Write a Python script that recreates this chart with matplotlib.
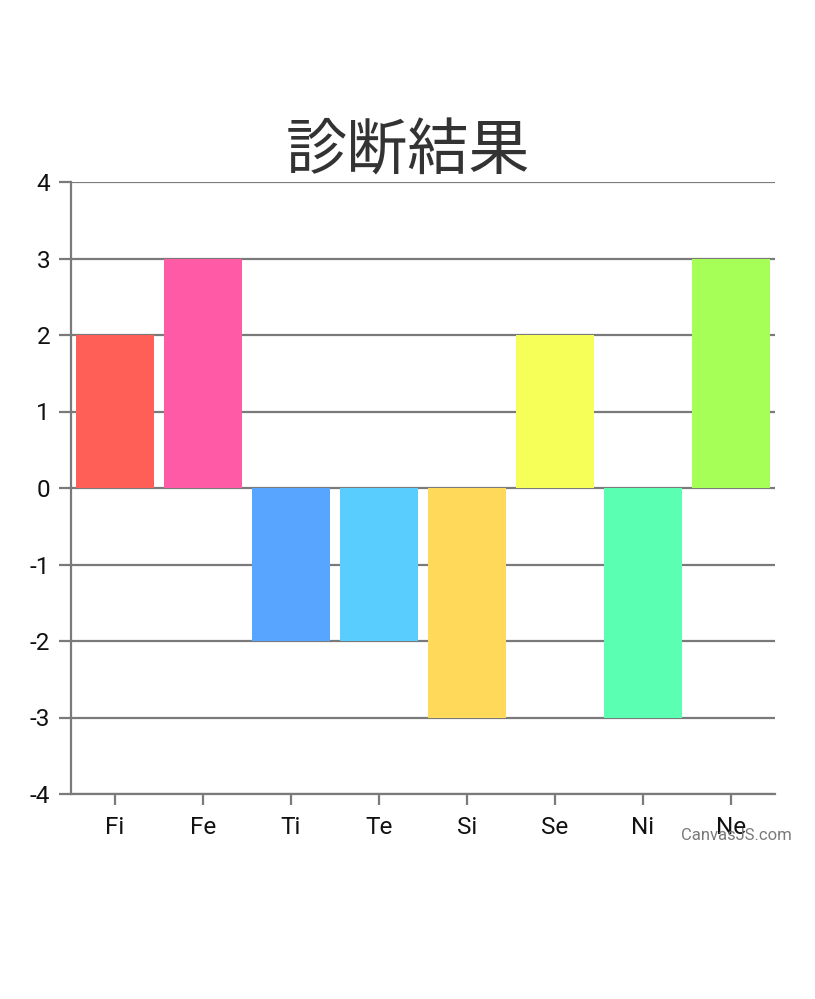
import matplotlib
matplotlib.use("Agg")
import matplotlib.pyplot as plt

categories = ["Fi", "Fe", "Ti", "Te", "Si", "Se", "Ni", "Ne"]
values = [2, 3, -2, -2, -3, 2, -3, 3]
colors = ["#FF5F57", "#FF5AA5", "#58A5FF", "#5ACDFF", "#FFDA5A", "#F5FF57", "#5AFFB2", "#A5FF57"]
yticks = [-4, -3, -2, -1, 0, 1, 2, 3, 4]
title = "診断結果"

fig = plt.figure(figsize=(8.15, 9.99), dpi=100)
ax = fig.add_axes([71/815, 1-794/999, (775-71)/815, (794-182)/999])

x = list(range(len(categories)))
ax.bar(x, values, width=0.89, color=colors, zorder=3, edgecolor="none")

ax.set_xlim(-0.5, len(categories)-0.5)
ax.set_ylim(-4, 4)
ax.set_yticks(yticks)
ax.set_yticklabels([str(v) for v in yticks], fontfamily="Roboto", fontsize=17.5, color="#111111")
ax.set_xticks(x)
ax.set_xticklabels(categories, fontfamily="Roboto", fontsize=17.5, color="#111111")

ax.yaxis.grid(True, color="#7a7a7a", linewidth=1.6, zorder=1)
ax.set_axisbelow(True)
for s in ["top", "right"]:
    ax.spines[s].set_visible(False)
ax.spines["left"].set_color("#7a7a7a")
ax.spines["left"].set_linewidth(1.6)
ax.spines["bottom"].set_color("#7a7a7a")
ax.spines["bottom"].set_linewidth(1.6)
ax.tick_params(axis="y", length=9, width=1.6, color="#7a7a7a", pad=6)
ax.tick_params(axis="x", length=8, width=1.6, color="#7a7a7a", pad=8)

fig.text(408/815, 1-152/999, title, ha="center", va="center",
         fontfamily=["Noto Sans CJK JP", "DejaVu Sans"], fontsize=44, color="#333333")
fig.text(792/815, 1-835/999, "CanvasJS.com", ha="right", va="center",
         fontfamily="Roboto", fontsize=12, color="#7a7a7a")

fig.savefig("out.png", dpi=100)
